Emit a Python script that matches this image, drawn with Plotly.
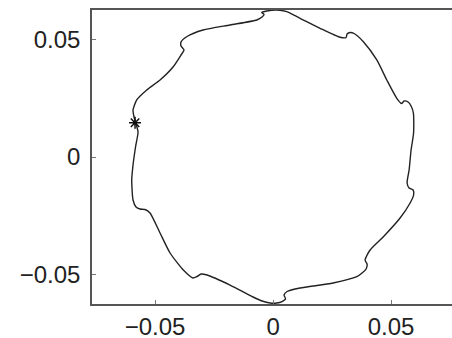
import plotly.graph_objects as go

# Closed trajectory, clockwise from the top
traj_x = [-0.00479, -0.00267, 0.00157, 0.00581, 0.01144, 0.01992, 0.02839, 0.03093, 0.03136, 0.03263,
          0.03432, 0.03826, 0.04394, 0.04818, 0.05242, 0.05445, 0.05551, 0.05720, 0.05847, 0.05945,
          0.05953, 0.05847, 0.05763, 0.05678, 0.05763, 0.05932, 0.05953, 0.05805, 0.05381, 0.04674,
          0.04110, 0.03898, 0.03983, 0.03941, 0.03771, 0.03547, 0.02542, 0.01144, 0.00593, 0.00466,
          0.00530, 0.00381, 0.00157, -0.00127, -0.00466, -0.00847, -0.01822, -0.02797, -0.03051, -0.03220,
          -0.03390, -0.03801, -0.04364, -0.04788, -0.05212, -0.05424, -0.05636, -0.05805, -0.05932, -0.05987,
          -0.05932, -0.05826, -0.05720, -0.05805, -0.05890, -0.05932, -0.05775, -0.05352, -0.04788, -0.04237,
          -0.03898, -0.03771, -0.03898, -0.03898, -0.03644, -0.02966, -0.01822, -0.00691, -0.00466, -0.00381,
          -0.00479]
traj_y = [0.06149, 0.06213, 0.06255, 0.06183, 0.05902, 0.05477, 0.05094, 0.05085, 0.05234, 0.05298,
          0.05255, 0.04906, 0.04128, 0.03277, 0.02498, 0.02277, 0.02383, 0.02340, 0.02170, 0.01872,
          0.01021, 0.00298, -0.00553, -0.01106, -0.01319, -0.01404, -0.01617, -0.01957, -0.02596, -0.03391,
          -0.03957, -0.04383, -0.04553, -0.04766, -0.04936, -0.05094, -0.05362, -0.05574, -0.05723, -0.05872,
          -0.06043, -0.06149, -0.06213, -0.06213, -0.06128, -0.05957, -0.05447, -0.05021, -0.04979, -0.05085,
          -0.05149, -0.04809, -0.04085, -0.03234, -0.02383, -0.02234, -0.02213, -0.02128, -0.01830, -0.00979,
          -0.00340, 0.00426, 0.01064, 0.01404, 0.01702, 0.02000, 0.02426, 0.02851, 0.03277, 0.03830,
          0.04340, 0.04553, 0.04723, 0.04894, 0.05128, 0.05404, 0.05617, 0.05830, 0.05957, 0.06064,
          0.06149]

# Starting point marker
start_x = [-0.05847]
start_y = [0.01460]

tick_vals = [-0.05, 0, 0.05]
tick_text = ["\u22120.05", "0", "0.05"]

x_range = [-0.0767, 0.0758]
y_range = [-0.06255, 0.06255]

fig = go.Figure()
fig.add_trace(go.Scatter(x=traj_x, y=traj_y, mode="lines",
                         line=dict(color="#222222", width=1.4, shape="spline", smoothing=0.6),
                         hoverinfo="skip", showlegend=False))
fig.add_trace(go.Scatter(x=start_x, y=start_y, mode="markers",
                         marker=dict(symbol="asterisk-open", size=10, color="#111111",
                                     line=dict(color="#111111", width=1.5)),
                         showlegend=False))

axis_common = dict(showgrid=False, zeroline=False, showline=True, linecolor="#555555", linewidth=1.6,
                   ticks="inside", ticklen=4, tickcolor="#777777", tickwidth=1,
                   tickvals=tick_vals, ticktext=tick_text, automargin=False,
                   tickfont=dict(family="Liberation Sans, Arial, sans-serif", size=24, color="#222222"))

fig.update_layout(
    width=452, height=338,
    margin=dict(l=92, r=0, t=10, b=34, pad=0),
    paper_bgcolor="white", plot_bgcolor="white",
    xaxis=dict(range=x_range, mirror=True, ticklabelstandoff=0, **axis_common),
    yaxis=dict(range=y_range, mirror=False, ticklabelstandoff=5, **axis_common),
)

fig.write_html("out.html",
               config={"displayModeBar": False},
               post_script="document.body.style.margin='0';document.body.style.overflow='hidden';")
